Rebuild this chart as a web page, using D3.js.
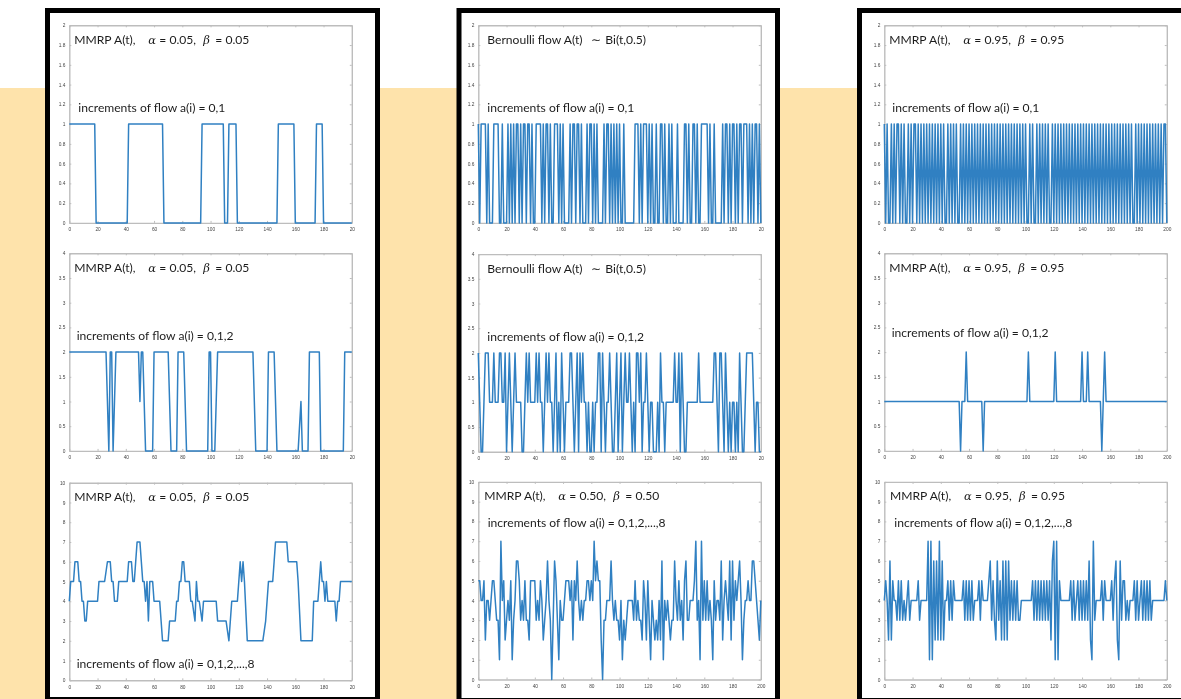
<!DOCTYPE html>
<html>
<head>
<meta charset="utf-8">
<script src="https://cdn.jsdelivr.net/npm/d3@7/dist/d3.min.js"></script>
<style>
  html, body { margin: 0; padding: 0; background: #fff; overflow: hidden; }
  svg { display: block; }
  .plots { filter: blur(0.6px); }
  .axis text { font-family: "Liberation Sans", sans-serif; font-size: 4.8px; fill: #444; }
  .axis path, .axis line { stroke: #bdbdbd; }
  .axis path { stroke-width: 1.4; }
  .note { font-family: Lato, sans-serif; font-size: 12.1px; fill: #1c1c1c; }
  .note .sym { font-family: "DejaVu Serif", serif; font-style: italic; font-size: 11.5px; }
</style>
</head>
<body>
<svg id="page" width="1181" height="699"></svg>
<script>
// x ticks and labels, the two left columns were cut off so the last label reads 20
const xTicks = [0,20,40,60,80,100,120,140,160,180,200];
const xLabelsCut = ["0","20","40","60","80","100","120","140","160","180","20"];
const xLabelsFull = ["0","20","40","60","80","100","120","140","160","180","200"];
const yTicksA = [0,0.2,0.4,0.6,0.8,1,1.2,1.4,1.6,1.8,2];
const yTicksB = [0,0.5,1,1.5,2,2.5,3,3.5,4];
const yTicksC = [0,1,2,3,4,5,6,7,8,9,10];

const titleLow = ["MMRP A(t),","α","= 0.05,","β","= 0.05"];
const titleMid = ["MMRP A(t),","α","= 0.50,","β","= 0.50"];
const titleHigh = ["MMRP A(t),","α","= 0.95,","β","= 0.95"];
const titleBernoulli = ["Bernoulli flow A(t)","∼","Bi(t,0.5)"];
const incBinary = "increments of flow a(i) = 0,1";
const incTernary = "increments of flow a(i) = 0,1,2";
const incEight = "increments of flow a(i) = 0,1,2,...,8";

// sparse series, [t, value] at the corners of the line
const lowBinary = [[0,1],[18,1],[19,0],[41,0],[42,1],[66,1],[67,0],[93,0],[94,1],[109,1],[110,0],[112,0],[113,1],[118,1],[119,0],[147,0],[148,1],[159,1],[160,0],[174,0],[175,1],[179,1],[180,0],[200,0]];
const lowTernary = [[0,2],[26,2],[28,0],[29,2],[30,2],[31,0],[33,2],[49,2],[50,1],[51,2],[52,2],[54,0],[59,0],[60,2],[70,2],[72,0],[76,0],[77,2],[81,2],[83,0],[98,0],[99,2],[100,2],[101,0],[103,0],[105,2],[130,2],[132,0],[140,0],[141,2],[145,2],[147,0],[162,0],[164,1],[165,0],[169,0],[170,2],[177,2],[178,0],[194,0],[195,2],[200,2]];
const lowEight = [[0,4],[1,5],[3,5],[4,6],[6,6],[7,5],[8,5],[9,4],[10,4],[11,3],[12,3],[13,4],[20,4],[21,5],[25,5],[27,6],[29,6],[30,5],[31,5],[32,4],[34,4],[35,5],[41,5],[42,6],[44,6],[45,5],[46,5],[47,6],[48,7],[50,7],[51,6],[52,5],[53,5],[54,4],[55,5],[56,3],[57,5],[59,5],[60,4],[64,4],[65,3],[66,2],[70,2],[71,3],[75,3],[76,4],[77,4],[78,5],[79,5],[80,6],[81,6],[82,5],[85,5],[86,4],[87,4],[89,3],[90,5],[91,4],[92,4],[94,3],[95,4],[104,4],[105,3],[111,3],[113,2],[115,4],[119,4],[120,5],[121,6],[122,5],[123,6],[124,5],[126,2],[137,2],[139,3],[141,5],[144,5],[145,6],[146,7],[154,7],[155,6],[161,6],[162,5],[164,2],[172,2],[173,4],[176,4],[178,6],[179,5],[180,5],[181,4],[182,5],[183,4],[188,4],[189,3],[190,4],[191,4],[192,5],[200,5]];
const highTernary = [[0,1],[53,1],[54,0],[55,1],[57,1],[58,2],[59,1],[69,1],[70,0],[71,1],[101,1],[102,2],[103,1],[120,1],[121,2],[122,1],[139,1],[140,2],[141,1],[143,1],[144,2],[145,1],[153,1],[154,0],[155,1],[156,2],[157,1],[200,1]];

// dense series, one value per t (ten to a row)
const bernBinary = [
  1,0,1,1,1,1,0,1,0,0,
  0,1,1,1,1,0,0,1,0,0,
  0,1,0,1,0,1,0,1,1,0,
  1,0,1,1,0,1,1,0,1,0,
  0,1,1,1,1,0,1,0,1,1,
  0,1,0,0,1,1,1,0,1,0,
  1,0,0,0,0,1,0,1,1,0,
  1,1,0,1,0,0,0,1,0,1,
  1,0,1,0,1,0,0,0,0,1,
  0,1,1,0,1,0,1,0,1,0,
  1,0,0,1,0,0,0,0,0,0,
  0,1,1,1,0,1,0,1,1,1,
  0,1,0,1,0,0,1,0,0,1,
  1,0,1,0,0,1,0,1,0,0,
  0,1,0,0,0,0,1,1,0,1,
  0,0,1,1,0,1,0,0,1,1,
  1,1,1,0,1,0,0,1,0,0,
  0,0,0,1,0,1,1,0,1,0,
  1,1,0,1,0,1,1,0,1,1,
  1,0,1,0,1,0,1,1,0,1,0];
const bernTernary = [
  2,1,0,0,1,2,2,2,1,1,
  1,2,1,1,1,2,2,1,1,2,
  0,1,2,1,0,1,2,1,1,1,
  1,0,0,1,2,1,2,1,1,1,
  1,2,1,2,1,1,0,1,2,1,
  2,1,1,0,1,2,0,1,0,2,
  1,0,1,1,1,2,2,1,0,1,
  2,0,2,1,2,1,1,0,1,0,
  0,1,0,1,1,2,2,0,2,1,
  0,1,1,2,1,0,0,1,2,0,
  1,2,0,1,2,1,1,2,1,0,
  1,0,2,2,1,2,0,1,1,2,
  1,0,1,1,0,0,0,1,0,2,
  1,1,0,1,1,1,1,1,1,2,
  1,1,2,0,2,1,0,0,1,1,
  1,1,1,1,1,1,2,1,1,1,
  1,1,1,1,1,1,1,2,2,1,
  0,2,2,1,0,2,1,0,1,0,
  1,1,0,1,0,2,1,0,0,1,
  2,2,2,2,2,1,0,1,1,0,0];
const midEight = [
  5,5,4,4,5,2,4,4,3,4,
  5,5,4,3,3,1,7,4,5,2,
  3,4,3,5,1,3,4,6,6,5,
  3,4,3,5,3,3,2,5,5,5,
  5,3,4,3,5,4,2,3,4,6,
  4,3,0,3,6,5,3,1,4,3,
  3,4,5,5,5,4,5,2,5,4,
  6,4,3,4,3,4,4,5,5,4,
  5,4,7,5,6,5,5,2,0,3,
  3,4,4,4,6,4,3,4,3,3,
  2,4,1,3,2,3,4,4,4,4,
  3,5,3,4,3,3,2,5,4,2,
  5,3,1,4,3,2,3,2,4,2,
  6,1,4,3,4,3,2,3,3,6,
  4,3,5,3,4,2,5,6,3,3,
  4,4,4,5,7,3,4,1,7,3,
  5,3,5,3,4,3,1,5,3,4,
  4,3,6,2,4,5,4,3,6,2,
  6,3,5,4,5,6,4,1,3,4,
  4,5,4,4,6,6,5,4,3,2,4];
const highBinary = [
  1,0,1,0,0,1,0,1,0,1,
  1,0,1,0,1,0,0,1,0,1,
  0,1,1,0,1,0,1,0,1,0,
  1,0,1,0,1,0,1,0,1,0,
  1,0,1,0,0,1,0,1,0,1,
  0,1,0,0,1,0,1,0,1,0,
  1,0,1,0,1,0,1,0,1,0,
  1,0,1,0,1,0,1,0,1,0,
  1,0,1,0,1,0,1,0,1,0,
  1,0,1,0,1,0,1,0,1,0,
  1,0,0,1,0,1,0,0,1,0,
  1,0,1,0,1,0,1,0,0,1,
  0,1,0,1,0,1,0,1,0,1,
  0,1,0,1,0,1,0,1,0,1,
  0,1,0,1,0,1,0,1,0,1,
  0,1,0,1,0,1,0,1,0,1,
  0,1,0,1,0,1,0,1,0,1,
  0,1,0,1,0,1,0,0,1,0,
  1,0,1,0,1,0,1,0,1,0,
  1,0,1,0,1,0,1,0,1,1,0];
const highEight = [
  4,5,4,2,6,2,5,4,4,3,
  5,3,5,3,4,3,4,5,3,4,
  4,4,4,4,5,3,4,4,4,4,
  4,7,1,7,1,6,2,6,2,7,
  2,6,2,4,4,5,3,5,3,5,
  4,4,4,4,4,4,5,3,5,3,
  5,3,5,3,4,4,4,5,3,5,
  4,4,4,4,5,6,3,5,3,2,
  6,3,5,2,6,2,6,2,6,3,
  5,3,5,3,5,3,3,4,4,4,
  4,4,4,4,4,5,3,5,3,5,
  3,5,3,5,3,5,3,5,2,6,
  7,1,7,1,5,4,4,4,4,4,
  4,4,5,3,5,3,4,5,3,5,
  3,5,3,5,3,6,2,1,7,3,
  4,4,4,4,5,3,5,4,4,4,
  4,5,3,5,6,2,1,6,3,5,
  5,3,4,3,4,4,4,5,3,5,
  3,4,5,3,5,3,5,3,5,3,
  4,4,4,4,4,4,4,4,4,5,4];

const withTime = values => values.map((v, i) => [i, v]);

// layout
const colLeft = [69.3, 478.3, 884.3];
const plotWidth = 282.5;
const rowTop = [25.3, 253.3, 482.7];
const plotHeight = 197.6;
const lineColor = "#3080c2";

const panels = [
  {col:0,row:0,shift:0,data:lowBinary,max:2,yTicks:yTicksA,xLabels:xLabelsCut,title:titleLow,titlePos:[74.3,44],inc:incBinary,incPos:[78.3,112]},
  {col:0,row:1,shift:0,data:lowTernary,max:4,yTicks:yTicksB,xLabels:xLabelsCut,title:titleLow,titlePos:[74.3,272],inc:incTernary,incPos:[76.7,340]},
  {col:0,row:2,shift:0,data:lowEight,max:10,yTicks:yTicksC,xLabels:xLabelsCut,title:titleLow,titlePos:[74.3,501],inc:incEight,incPos:[76.7,668]},
  {col:1,row:0,shift:0,data:withTime(bernBinary),max:2,yTicks:yTicksA,xLabels:xLabelsCut,title:titleBernoulli,titlePos:[487.3,44],inc:incBinary,incPos:[487.3,112]},
  {col:1,row:1,shift:0.8,data:withTime(bernTernary),max:4,yTicks:yTicksB,xLabels:xLabelsCut,title:titleBernoulli,titlePos:[487.3,273],inc:incTernary,incPos:[487.3,341]},
  {col:1,row:2,shift:-0.8,data:withTime(midEight),max:10,yTicks:yTicksC,xLabels:xLabelsFull,title:titleMid,titlePos:[484.3,500],inc:incEight,incPos:[487.7,527]},
  {col:2,row:0,shift:0,data:withTime(highBinary),max:2,yTicks:yTicksA,xLabels:xLabelsFull,title:titleHigh,titlePos:[889.3,44],inc:incBinary,incPos:[892.3,112]},
  {col:2,row:1,shift:0,data:highTernary,max:4,yTicks:yTicksB,xLabels:xLabelsFull,title:titleHigh,titlePos:[889.3,272],inc:incTernary,incPos:[891.7,337]},
  {col:2,row:2,shift:-0.8,data:withTime(highEight),max:10,yTicks:yTicksC,xLabels:xLabelsFull,title:titleHigh,titlePos:[890,500],inc:incEight,incPos:[894.3,527]}
];

const page = d3.select("svg#page");

// cream band behind the black frames
page.append("rect").attr("x",0).attr("y",88).attr("width",857).attr("height",611).attr("fill","#fee3ab");

const frames = [[47.5,10.5,330,689],[459,10.5,318.5,690],[859.5,10.5,340,690]];
page.selectAll("rect.frame")
    .data(frames)
    .join("rect")
    .attr("class","frame")
    .attr("x", d => d[0])
    .attr("y", d => d[1])
    .attr("width", d => d[2])
    .attr("height", d => d[3])
    .attr("fill","#fff")
    .attr("stroke","#000")
    .attr("stroke-width",5);

const plots = page.append("g").attr("class","plots");

panels.forEach(p => {
    const left = colLeft[p.col], top = rowTop[p.row] + p.shift;
    const x = d3.scaleLinear().domain([0,200]).range([0,plotWidth]);
    const y = d3.scaleLinear().domain([0,p.max]).range([plotHeight,0]);
    const g = plots.append("g").attr("transform","translate("+left+","+top+")");

    g.append("g").attr("class","axis")
     .attr("transform","translate(0,"+plotHeight+")")
     .call(d3.axisBottom(x).tickValues(xTicks).tickFormat((d,i) => p.xLabels[i]).tickSizeInner(-2).tickSizeOuter(0).tickPadding(5));
    g.append("g").attr("class","axis")
     .call(d3.axisLeft(y).tickValues(p.yTicks).tickFormat(d => d).tickSizeInner(-2).tickSizeOuter(0).tickPadding(4));
    g.append("g").attr("class","axis")
     .call(d3.axisTop(x).tickValues(xTicks).tickFormat("").tickSizeInner(-2).tickSizeOuter(0));
    g.append("g").attr("class","axis")
     .attr("transform","translate("+plotWidth+",0)")
     .call(d3.axisRight(y).tickValues(p.yTicks).tickFormat("").tickSizeInner(-2).tickSizeOuter(0));

    const line = d3.line().x(d => x(d[0])).y(d => y(d[1]));
    g.append("path")
     .datum(p.data)
     .attr("fill","none")
     .attr("stroke",lineColor)
     .attr("stroke-width",1.5)
     .attr("stroke-linejoin","round")
     .attr("d",line);

    // annotations are written straight on the page
    const title = plots.append("text").attr("class","note").attr("y",p.titlePos[1]);
    const offsets = p.title.length === 5 ? [0,74,85,129,141] : [0,104,118];
    p.title.forEach((part,i) => {
        title.append("tspan")
             .attr("x",p.titlePos[0]+offsets[i])
             .attr("class",(part === "α" || part === "β") ? "sym" : null)
             .text(part);
    });
    plots.append("text").attr("class","note")
         .attr("x",p.incPos[0]).attr("y",p.incPos[1])
         .text(p.inc);
});
</script>
</body>
</html>
